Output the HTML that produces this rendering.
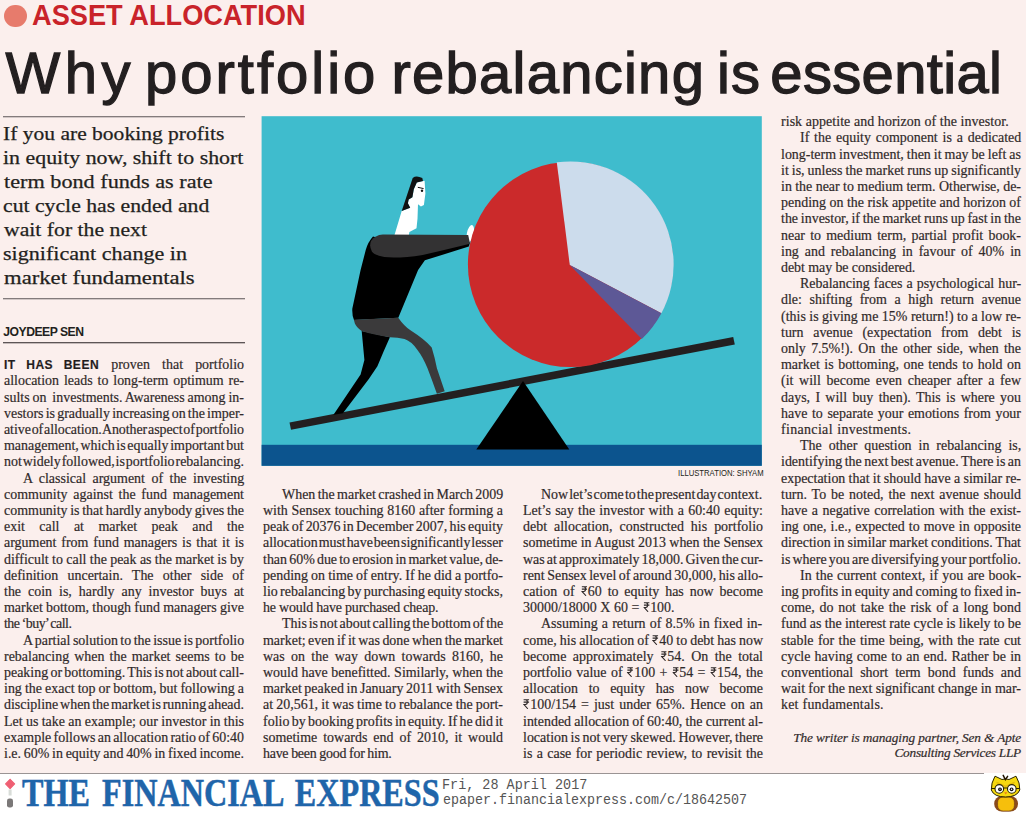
<!DOCTYPE html><html><head><meta charset="utf-8"><title>Why portfolio rebalancing is essential</title><style>
html,body{margin:0;padding:0}
body{width:1026px;height:813px;position:relative;overflow:hidden;background:#fbefed;font-family:"Liberation Serif",serif;}
.l{position:absolute;white-space:pre;transform-origin:0 0;transform:scaleX(0.97);font-family:"Liberation Serif",serif;font-size:14.4px;line-height:16px;height:16px;color:#2e2828;-webkit-text-stroke:0.2px #3a3333}
.m{white-space:pre}
.b{word-spacing:7px;font-family:"Liberation Sans",sans-serif;font-weight:bold;font-size:12.4px;letter-spacing:0.5px;color:#1f1b1c}
.rs{display:inline-block;vertical-align:baseline;margin:0 0.3px}
.it{font-style:italic}

.r{position:absolute;height:2px;background:linear-gradient(#837b7c 0,#837b7c 50%,rgba(131,123,124,.35) 50%)}
</style></head><body>
<div style="position:absolute;left:4.3px;top:5px;width:22.4px;height:22.4px;border-radius:50%;background:#e77b6c"></div>
<div style="position:absolute;white-space:pre;left:31.9px;top:-2.08px;font-family:'Liberation Sans',sans-serif;font-size:28.8px;line-height:34px;font-weight:bold;color:#c9232a;"><span style="display:inline-block;transform:scaleX(0.9448);transform-origin:0 0">ASSET ALLOCATION</span></div>
<div style="position:absolute;white-space:pre;left:5.6px;top:40.29px;font-family:'Liberation Sans',sans-serif;font-size:58px;line-height:66px;color:#231f20;-webkit-text-stroke:1.3px #231f20;letter-spacing:4.450px;">Why</div>
<div style="position:absolute;white-space:pre;left:145.0px;top:40.29px;font-family:'Liberation Sans',sans-serif;font-size:58px;line-height:66px;color:#231f20;-webkit-text-stroke:1.3px #231f20;letter-spacing:3.000px;">portfolio</div>
<div style="position:absolute;white-space:pre;left:391.5px;top:40.29px;font-family:'Liberation Sans',sans-serif;font-size:58px;line-height:66px;color:#231f20;-webkit-text-stroke:1.3px #231f20;letter-spacing:1.250px;">rebalancing</div>
<div style="position:absolute;white-space:pre;left:717.0px;top:40.29px;font-family:'Liberation Sans',sans-serif;font-size:58px;line-height:66px;color:#231f20;-webkit-text-stroke:1.3px #231f20;letter-spacing:1.000px;">is</div>
<div style="position:absolute;white-space:pre;left:770.3px;top:40.29px;font-family:'Liberation Sans',sans-serif;font-size:58px;line-height:66px;color:#231f20;-webkit-text-stroke:1.3px #231f20;letter-spacing:0.350px;">essential</div>
<div class="r" style="left:3px;top:115.6px;width:242px"></div>
<div class="r" style="left:3px;top:298.3px;width:242px"></div>
<div class="r" style="left:3px;top:341.6px;width:242px;background:linear-gradient(#5d5556 0,#5d5556 50%,rgba(93,85,86,.35) 50%)"></div>
<div style="position:absolute;white-space:pre;left:2.8px;top:121.59px;font-family:'Liberation Serif',serif;font-size:19.6px;line-height:24px;color:#231f20;-webkit-text-stroke:0.25px #231f20;"><span style="display:inline-block;transform:scaleX(1.0990);transform-origin:0 0">If you are booking profits</span></div>
<div style="position:absolute;white-space:pre;left:2.8px;top:145.64px;font-family:'Liberation Serif',serif;font-size:19.6px;line-height:24px;color:#231f20;-webkit-text-stroke:0.25px #231f20;"><span style="display:inline-block;transform:scaleX(1.1164);transform-origin:0 0">in equity now, shift to short</span></div>
<div style="position:absolute;white-space:pre;left:3.9px;top:169.69px;font-family:'Liberation Serif',serif;font-size:19.6px;line-height:24px;color:#231f20;-webkit-text-stroke:0.25px #231f20;"><span style="display:inline-block;transform:scaleX(1.1339);transform-origin:0 0">term bond funds as rate</span></div>
<div style="position:absolute;white-space:pre;left:2.8px;top:193.74px;font-family:'Liberation Serif',serif;font-size:19.6px;line-height:24px;color:#231f20;-webkit-text-stroke:0.25px #231f20;"><span style="display:inline-block;transform:scaleX(1.1086);transform-origin:0 0">cut cycle has ended and</span></div>
<div style="position:absolute;white-space:pre;left:3.9px;top:217.79px;font-family:'Liberation Serif',serif;font-size:19.6px;line-height:24px;color:#231f20;-webkit-text-stroke:0.25px #231f20;"><span style="display:inline-block;transform:scaleX(1.1085);transform-origin:0 0">wait for the next</span></div>
<div style="position:absolute;white-space:pre;left:2.8px;top:241.84px;font-family:'Liberation Serif',serif;font-size:19.6px;line-height:24px;color:#231f20;-webkit-text-stroke:0.25px #231f20;"><span style="display:inline-block;transform:scaleX(1.1272);transform-origin:0 0">significant change in</span></div>
<div style="position:absolute;white-space:pre;left:3.9px;top:265.89px;font-family:'Liberation Serif',serif;font-size:19.6px;line-height:24px;color:#231f20;-webkit-text-stroke:0.25px #231f20;"><span style="display:inline-block;transform:scaleX(1.1567);transform-origin:0 0">market fundamentals</span></div>
<div style="position:absolute;white-space:pre;left:3.3px;top:325.47px;font-family:'Liberation Sans',sans-serif;font-size:12.2px;line-height:14px;font-weight:bold;color:#231f20;letter-spacing:-0.510px;">JOYDEEP SEN</div>
<svg style="position:absolute;left:0;top:0" width="1026" height="813" viewBox="0 0 1026 813"><rect x="261.6" y="116.2" width="500.2" height="349.6" fill="#3fbccd"/><rect x="261.6" y="444.8" width="500.2" height="21" fill="#0c548e"/><polygon points="289.5,422.4 733.2,337.0 734.8,344.4 291.0,429.8" fill="#231f20"/><polygon points="523.0,381.1 569.3,449.6 476.3,449.6" fill="#000"/><polygon points="361.7,331.0 389.9,337.3 383.6,351.5 377.4,366.2 369.0,378.7 342.9,413.2 333.5,414.8 360.6,374.5 364.4,359.9" fill="#000"/><path d="M373 236.5 Q368 242 365.8 249.8 L360.6 270 L352.3 308.7 Q352 316 354 320 L398.3 317.7 L418.1 270 L424.9 260.3 L468.8 246.6 L470 242.5 L423 250 Z" fill="#000"/><path d="M353.9 319.8 L398.3 317.7 Q404 326 410.8 330.6 Q424 339 431.7 347.4 Q435 358 436.9 368.3 L444.7 391.3 L436.9 393.8 Q432 380 427.5 368.3 Q423 357 417.1 349.4 Q411 341 404.5 339.0 Q398 337.5 389.9 337.3 Q374 335 361.7 331.0 Q356 327 354.8 323.3 Z" fill="#3b3a3b"/><ellipse cx="470.3" cy="233.5" rx="3.4" ry="8.6" transform="rotate(12 470.3 233.5)" fill="#fff"/><circle cx="570.5" cy="264.5" r="102.6" fill="#cb2a2b"/><path d="M569.8 265.1L556.8 162.3A103.1 103.1 0 0 1 661.4 313.2Z" fill="#ccdcec"/><path d="M569.8 265.1L661.4 313.2A103.1 103.1 0 0 1 641.8 339.0Z" fill="#5d5896"/><polygon points="416.8,182.6 424.6,180.8 425.4,193.6 423.9,205.1 420.9,206.6 418.0,204.3 417.5,218.7 416.5,228.3 409.4,232.0 408.7,236.0 394.2,236.0 401.7,210.9 410.2,207.7 407.9,203.2 408.7,199.5 412.4,197.3 413.8,189.2" fill="#fff"/><path d="M412.7 177.9 Q416.5 175.2 422.3 178.1 L423 181.1 L416.8 182.6 L413.8 189.2 L412.4 197.3 L408.7 199.5 L407.9 203.2 L410.2 207.7 L401.7 210.9 Z" fill="#111"/><circle cx="422" cy="190.7" r="1.2" fill="#111"/><path d="M417.8 187.3L423.6 188.6" stroke="#111" stroke-width="1"/><path d="M382.8 234.5 L468.2 235.0 L470 243.8 Q445 250 422.7 254.9 Q400 258.5 384.3 257.1 Q374 255 371.8 251.2 Q369 246 371 241 Q375 235 382.8 234.5 Z" fill="#333233"/></svg>
<div style="position:absolute;white-space:pre;left:677.9px;top:467.51px;font-family:'Liberation Sans',sans-serif;font-size:9.2px;line-height:11px;color:#231f20;"><span style="display:inline-block;transform:scaleX(0.8370);transform-origin:0 0">ILLUSTRATION: SHYAM</span></div>
<div class="l" style="left:4.2px;top:356.24px;word-spacing:8.912px;"><span class="b">IT HAS BEEN</span> proven that portfolio</div>
<div class="l" style="left:4.2px;top:372.44px;word-spacing:1.447px;">allocation leads to long-term optimum re-</div>
<div class="l" style="left:4.2px;top:388.64px;word-spacing:-0.578px;">sults on  investments. Awareness among in-</div>
<div class="l" style="left:4.2px;top:404.84px;word-spacing:-1.344px;">vestors is gradually increasing on the imper-</div>
<div class="l" style="left:4.2px;top:421.04px;word-spacing:-2.594px;letter-spacing:-0.076px;">ative of allocation. Another aspect of portfolio</div>
<div class="l" style="left:4.2px;top:437.24px;word-spacing:-1.831px;">management, which is equally important but</div>
<div class="l" style="left:4.2px;top:453.44px;word-spacing:-2.594px;letter-spacing:-0.013px;">not widely followed, is portfolio rebalancing.</div>
<div class="l" style="left:23.0px;top:469.64px;word-spacing:3.058px;">A classical argument of the investing</div>
<div class="l" style="left:4.2px;top:485.84px;word-spacing:2.309px;">community against the fund management</div>
<div class="l" style="left:4.2px;top:502.04px;word-spacing:-0.864px;">community is that hardly anybody gives the</div>
<div class="l" style="left:4.2px;top:518.24px;word-spacing:11.268px;">exit call at market peak and the</div>
<div class="l" style="left:4.2px;top:534.44px;word-spacing:1.413px;">argument from fund managers is that it is</div>
<div class="l" style="left:4.2px;top:550.64px;word-spacing:-0.142px;">difficult to call the peak as the market is by</div>
<div class="l" style="left:4.2px;top:566.84px;word-spacing:5.897px;">definition uncertain. The other side of</div>
<div class="l" style="left:4.2px;top:583.04px;word-spacing:3.601px;">the coin is, hardly any investor buys at</div>
<div class="l" style="left:4.2px;top:599.24px;word-spacing:-0.234px;">market bottom, though fund managers give</div>
<div class="l" style="left:4.2px;top:615.44px;word-spacing:-0.816px;letter-spacing:-0.544px;">the ‘buy’ call.</div>
<div class="l" style="left:23.0px;top:631.64px;word-spacing:-1.057px;">A partial solution to the issue is portfolio</div>
<div class="l" style="left:4.2px;top:647.84px;word-spacing:1.677px;">rebalancing when the market seems to be</div>
<div class="l" style="left:4.2px;top:664.04px;word-spacing:-1.274px;">peaking or bottoming. This is not about call-</div>
<div class="l" style="left:4.2px;top:680.24px;word-spacing:-0.396px;">ing the exact top or bottom, but following a</div>
<div class="l" style="left:4.2px;top:696.44px;word-spacing:-1.724px;">discipline when the market is running ahead.</div>
<div class="l" style="left:4.2px;top:712.64px;word-spacing:-0.144px;">Let us take an example; our investor in this</div>
<div class="l" style="left:4.2px;top:728.84px;word-spacing:-1.258px;">example follows an allocation ratio of 60:40</div>
<div class="l" style="left:4.2px;top:745.04px;word-spacing:-0.795px;">i.e. 60% in equity and 40% in fixed income.</div>
<div class="l" style="left:281.8px;top:485.84px;word-spacing:-1.155px;">When the market crashed in March 2009</div>
<div class="l" style="left:263.0px;top:502.04px;word-spacing:0.206px;">with Sensex touching 8160 after forming a</div>
<div class="l" style="left:263.0px;top:518.24px;word-spacing:-1.194px;">peak of 20376 in December 2007, his equity</div>
<div class="l" style="left:263.0px;top:534.44px;word-spacing:-2.594px;letter-spacing:-0.031px;">allocation must have been significantly lesser</div>
<div class="l" style="left:263.0px;top:550.64px;word-spacing:-1.392px;">than 60% due to erosion in market value, de-</div>
<div class="l" style="left:263.0px;top:566.84px;word-spacing:-0.380px;">pending on time of entry. If he did a portfo-</div>
<div class="l" style="left:263.0px;top:583.04px;word-spacing:-1.190px;">lio rebalancing by purchasing equity stocks,</div>
<div class="l" style="left:263.0px;top:599.24px;word-spacing:-0.243px;letter-spacing:-0.162px;">he would have purchased cheap.</div>
<div class="l" style="left:281.8px;top:615.44px;word-spacing:-1.673px;">This is not about calling the bottom of the</div>
<div class="l" style="left:263.0px;top:631.64px;word-spacing:-1.041px;">market; even if it was done when the market</div>
<div class="l" style="left:263.0px;top:647.84px;word-spacing:2.915px;">was on the way down towards 8160, he</div>
<div class="l" style="left:263.0px;top:664.04px;word-spacing:0.035px;">would have benefitted. Similarly, when the</div>
<div class="l" style="left:263.0px;top:680.24px;word-spacing:-0.904px;">market peaked in January 2011 with Sensex</div>
<div class="l" style="left:263.0px;top:696.44px;word-spacing:-0.344px;">at 20,561, it was time to rebalance the port-</div>
<div class="l" style="left:263.0px;top:712.64px;word-spacing:-1.184px;">folio by booking profits in equity. If he did it</div>
<div class="l" style="left:263.0px;top:728.84px;word-spacing:2.534px;">sometime towards end of 2010, it would</div>
<div class="l" style="left:263.0px;top:745.04px;word-spacing:-0.402px;letter-spacing:-0.268px;">have been good for him.</div>
<div class="l" style="left:541.4px;top:485.84px;word-spacing:-2.476px;">Now let’s come to the present day context.</div>
<div class="l" style="left:522.6px;top:502.04px;word-spacing:0.801px;">Let’s say the investor with a 60:40 equity:</div>
<div class="l" style="left:522.6px;top:518.24px;word-spacing:3.606px;">debt allocation, constructed his portfolio</div>
<div class="l" style="left:522.6px;top:534.44px;word-spacing:-0.068px;">sometime in August 2013 when the Sensex</div>
<div class="l" style="left:522.6px;top:550.64px;word-spacing:-1.476px;">was at approximately 18,000. Given the cur-</div>
<div class="l" style="left:522.6px;top:566.84px;word-spacing:-1.022px;">rent Sensex level of around 30,000, his allo-</div>
<div class="l" style="left:522.6px;top:583.04px;word-spacing:2.473px;">cation of <svg class="rs" viewBox="0 0 60 92" width="6.9" height="10"><path d="M4 7H56M4 29H56M6 7H22C46 7 46 50 22 50H6L44 90" fill="none" stroke="currentColor" stroke-width="10"/></svg>60 to equity has now become</div>
<div class="l" style="left:522.6px;top:599.24px;word-spacing:0.019px;letter-spacing:0.013px;">30000/18000 X 60 = <svg class="rs" viewBox="0 0 60 92" width="6.9" height="10"><path d="M4 7H56M4 29H56M6 7H22C46 7 46 50 22 50H6L44 90" fill="none" stroke="currentColor" stroke-width="10"/></svg>100.</div>
<div class="l" style="left:541.4px;top:615.44px;word-spacing:0.718px;">Assuming a return of 8.5% in fixed in-</div>
<div class="l" style="left:522.6px;top:631.64px;word-spacing:-0.433px;">come, his allocation of <svg class="rs" viewBox="0 0 60 92" width="6.9" height="10"><path d="M4 7H56M4 29H56M6 7H22C46 7 46 50 22 50H6L44 90" fill="none" stroke="currentColor" stroke-width="10"/></svg>40 to debt has now</div>
<div class="l" style="left:522.6px;top:647.84px;word-spacing:3.069px;">become approximately <svg class="rs" viewBox="0 0 60 92" width="6.9" height="10"><path d="M4 7H56M4 29H56M6 7H22C46 7 46 50 22 50H6L44 90" fill="none" stroke="currentColor" stroke-width="10"/></svg>54. On the total</div>
<div class="l" style="left:522.6px;top:664.04px;word-spacing:0.959px;">portfolio value of <svg class="rs" viewBox="0 0 60 92" width="6.9" height="10"><path d="M4 7H56M4 29H56M6 7H22C46 7 46 50 22 50H6L44 90" fill="none" stroke="currentColor" stroke-width="10"/></svg>100 + <svg class="rs" viewBox="0 0 60 92" width="6.9" height="10"><path d="M4 7H56M4 29H56M6 7H22C46 7 46 50 22 50H6L44 90" fill="none" stroke="currentColor" stroke-width="10"/></svg>54 = <svg class="rs" viewBox="0 0 60 92" width="6.9" height="10"><path d="M4 7H56M4 29H56M6 7H22C46 7 46 50 22 50H6L44 90" fill="none" stroke="currentColor" stroke-width="10"/></svg>154, the</div>
<div class="l" style="left:522.6px;top:680.24px;word-spacing:7.363px;">allocation to equity has now become</div>
<div class="l" style="left:522.6px;top:696.44px;word-spacing:1.601px;"><svg class="rs" viewBox="0 0 60 92" width="6.9" height="10"><path d="M4 7H56M4 29H56M6 7H22C46 7 46 50 22 50H6L44 90" fill="none" stroke="currentColor" stroke-width="10"/></svg>100/154 = just under 65%. Hence on an</div>
<div class="l" style="left:522.6px;top:712.64px;word-spacing:-0.388px;">intended allocation of 60:40, the current al-</div>
<div class="l" style="left:522.6px;top:728.84px;word-spacing:-0.893px;">location is not very skewed. However, there</div>
<div class="l" style="left:522.6px;top:745.04px;word-spacing:0.924px;">is a case for periodic review, to revisit the</div>
<div class="l" style="left:781.3px;top:113.24px;word-spacing:0.076px;letter-spacing:0.051px;">risk appetite and horizon of the investor.</div>
<div class="l" style="left:800.1px;top:129.44px;word-spacing:1.377px;">If the equity component is a dedicated</div>
<div class="l" style="left:781.3px;top:145.64px;word-spacing:-0.509px;">long-term investment, then it may be left as</div>
<div class="l" style="left:781.3px;top:161.84px;word-spacing:-0.511px;">it is, unless the market runs up significantly</div>
<div class="l" style="left:781.3px;top:178.04px;word-spacing:-0.107px;">in the near to medium term. Otherwise, de-</div>
<div class="l" style="left:781.3px;top:194.24px;word-spacing:0.007px;">pending on the risk appetite and horizon of</div>
<div class="l" style="left:781.3px;top:210.44px;word-spacing:-0.776px;">the investor, if the market runs up fast in the</div>
<div class="l" style="left:781.3px;top:226.64px;word-spacing:1.740px;">near to medium term, partial profit book-</div>
<div class="l" style="left:781.3px;top:242.84px;word-spacing:2.520px;">ing and rebalancing in favour of 40% in</div>
<div class="l" style="left:781.3px;top:259.04px;word-spacing:-0.080px;letter-spacing:-0.053px;">debt may be considered.</div>
<div class="l" style="left:800.1px;top:275.24px;word-spacing:0.542px;">Rebalancing faces a psychological hur-</div>
<div class="l" style="left:781.3px;top:291.44px;word-spacing:4.203px;">dle: shifting from a high return avenue</div>
<div class="l" style="left:781.3px;top:307.64px;word-spacing:0.004px;">(this is giving me 15% return!) to a low re-</div>
<div class="l" style="left:781.3px;top:323.84px;word-spacing:6.406px;">turn avenue (expectation from debt is</div>
<div class="l" style="left:781.3px;top:340.04px;word-spacing:1.889px;">only 7.5%!). On the other side, when the</div>
<div class="l" style="left:781.3px;top:356.24px;word-spacing:1.085px;">market is bottoming, one tends to hold on</div>
<div class="l" style="left:781.3px;top:372.44px;word-spacing:2.299px;">(it will become even cheaper after a few</div>
<div class="l" style="left:781.3px;top:388.64px;word-spacing:1.883px;">days, I will buy then). This is where you</div>
<div class="l" style="left:781.3px;top:404.84px;word-spacing:1.141px;">have to separate your emotions from your</div>
<div class="l" style="left:781.3px;top:421.04px;word-spacing:0.522px;letter-spacing:0.348px;">financial investments.</div>
<div class="l" style="left:800.1px;top:437.24px;word-spacing:3.568px;">The other question in rebalancing is,</div>
<div class="l" style="left:781.3px;top:453.44px;word-spacing:-1.040px;">identifying the next best avenue. There is an</div>
<div class="l" style="left:781.3px;top:469.64px;word-spacing:-0.221px;">expectation that it should have a similar re-</div>
<div class="l" style="left:781.3px;top:485.84px;word-spacing:1.442px;">turn. To be noted, the next avenue should</div>
<div class="l" style="left:781.3px;top:502.04px;word-spacing:1.011px;">have a negative correlation with the exist-</div>
<div class="l" style="left:781.3px;top:518.24px;word-spacing:0.576px;">ing one, i.e., expected to move in opposite</div>
<div class="l" style="left:781.3px;top:534.44px;word-spacing:-0.500px;">direction in similar market conditions. That</div>
<div class="l" style="left:781.3px;top:550.64px;word-spacing:-1.325px;">is where you are diversifying your portfolio.</div>
<div class="l" style="left:800.1px;top:566.84px;word-spacing:0.722px;">In the current context, if you are book-</div>
<div class="l" style="left:781.3px;top:583.04px;word-spacing:-0.648px;">ing profits in equity and coming to fixed in-</div>
<div class="l" style="left:781.3px;top:599.24px;word-spacing:1.292px;">come, do not take the risk of a long bond</div>
<div class="l" style="left:781.3px;top:615.44px;word-spacing:-0.259px;">fund as the interest rate cycle is likely to be</div>
<div class="l" style="left:781.3px;top:631.64px;word-spacing:0.906px;">stable for the time being, with the rate cut</div>
<div class="l" style="left:781.3px;top:647.84px;word-spacing:0.707px;">cycle having come to an end. Rather be in</div>
<div class="l" style="left:781.3px;top:664.04px;word-spacing:3.681px;">conventional short term bond funds and</div>
<div class="l" style="left:781.3px;top:680.24px;word-spacing:-0.178px;">wait for the next significant change in mar-</div>
<div class="l" style="left:781.3px;top:696.44px;word-spacing:0.288px;letter-spacing:0.192px;">ket fundamentals.</div>
<div style="position:absolute;white-space:pre;left:793.3px;top:729.51px;font-family:'Liberation Serif',serif;font-size:13.3px;line-height:16px;font-style:italic;color:#2e2828;-webkit-text-stroke:0.2px #3a3333;letter-spacing:-0.129px;">The writer is managing partner, Sen &amp; Apte</div>
<div style="position:absolute;white-space:pre;left:894.5px;top:745.31px;font-family:'Liberation Serif',serif;font-size:13.3px;line-height:16px;font-style:italic;color:#2e2828;-webkit-text-stroke:0.2px #3a3333;letter-spacing:-0.250px;">Consulting Services LLP</div>
<div style="position:absolute;left:0;top:773px;width:1026px;height:40px;background:#fff"></div>
<div style="position:absolute;left:0;top:773px;width:984px;height:1px;background:#9a9494"></div>
<svg style="position:absolute;left:0;top:776px" width="20" height="36" viewBox="0 776 20 36"><path d="M10.1 779.3L14.6 783.9L10.1 788.5L5.6 783.9Z" fill="#ef5f73" stroke="#ef5f73" stroke-width="1.2" stroke-linejoin="round"/><rect x="8.6" y="789.5" width="3" height="6" fill="#d8dcd8"/><rect x="7" y="798.4" width="6" height="9.2" rx="2.4" fill="#7b7878"/></svg>
<div style="position:absolute;white-space:pre;left:22.0px;top:770.71px;font-family:'Liberation Serif',serif;font-size:39.7px;line-height:44px;font-weight:bold;color:#1f65aa;-webkit-text-stroke:0.5px #1f65aa;word-spacing:5px;"><span style="display:inline-block;transform:scaleX(0.8109);transform-origin:0 0">THE FINANCIAL EXPRESS</span></div>
<div style="position:absolute;white-space:pre;left:442.3px;top:776.54px;font-family:'Liberation Mono',monospace;font-size:14.5px;line-height:16px;color:#555;"><span style="display:inline-block;transform:scaleX(0.9275);transform-origin:0 0">Fri, 28 April 2017</span></div>
<div style="position:absolute;white-space:pre;left:443.3px;top:792.44px;font-family:'Liberation Mono',monospace;font-size:14.5px;line-height:16px;color:#555;"><span style="display:inline-block;transform:scaleX(0.9195);transform-origin:0 0">epaper.financialexpress.com/c/18642507</span></div>
<svg style="position:absolute;left:986px;top:773px" width="40" height="40" viewBox="986 773 40 40"><rect x="994.2" y="796" width="23.8" height="15.4" rx="7.5" fill="#8a4a1c"/><rect x="997.6" y="797" width="16.8" height="14" rx="5.5" fill="#f6bf0c" stroke="#6b3a10" stroke-width="0.6"/><path d="M995 776.2 L1002 779.5 Q1005.5 778.3 1009 779.5 L1016 776.2 Q1020.2 783 1019.8 790 Q1017 797 1005.5 797 Q994 797 991.3 790 Q991 783 995 776.2Z" fill="#f6d90f" stroke="#2a2400" stroke-width="1"/><path d="M1003.2 775.3L1005.4 779.6L1007.6 776.4" fill="none" stroke="#231400" stroke-width="1.5" stroke-linecap="round"/><path d="M996.5 782.3L1005.5 786.4L1014.6 782.3" fill="none" stroke="#e3b70a" stroke-width="1.3"/><circle cx="999.3" cy="788.9" r="4.3" fill="#fff" stroke="#2a2400" stroke-width="1.1"/><circle cx="1011.8" cy="788.9" r="4.3" fill="#fff" stroke="#2a2400" stroke-width="1.1"/><path d="M1003.6 788H1007.5M991.6 788.5H995M1016.1 788.5H1019.6" stroke="#2a2400" stroke-width="1"/><circle cx="1000" cy="789.3" r="1.9" fill="#111"/><circle cx="1011.6" cy="789.3" r="1.9" fill="#111"/><circle cx="1000" cy="789.3" r="0.7" fill="#aab"/><circle cx="1011.6" cy="789.3" r="0.7" fill="#fff"/><path d="M1004.1 792.2H1007.3L1005.7 794.4Z" fill="#ee7a1a"/></svg>
</body></html>
